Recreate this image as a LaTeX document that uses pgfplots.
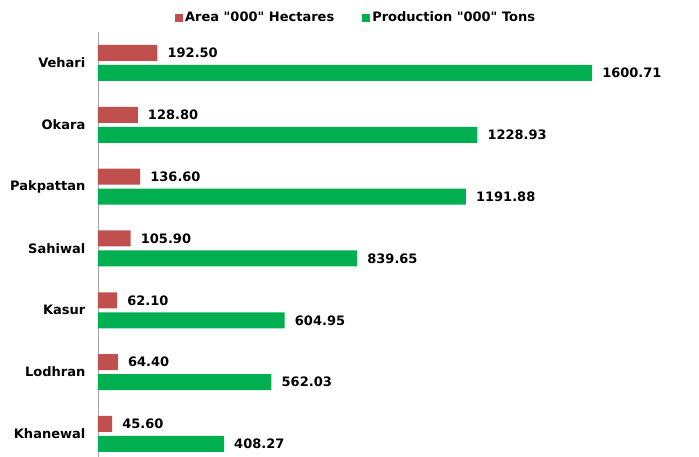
\documentclass[border=0pt]{standalone}
\usepackage{fontspec}
\setmainfont{DejaVu Sans}[Ligatures=TeXOff]
\usepackage{pgfplots}
\pgfplotsset{compat=1.18}
\usepackage{pgfplotstable}
\definecolor{areaRed}{HTML}{C0504D}
\definecolor{prodGreen}{HTML}{00B050}

\pgfplotstableread{
idx area prod
6 192.50 1600.71
5 128.80 1228.93
4 136.60 1191.88
3 105.90 839.65
2 62.10 604.95
1 64.40 562.03
0 45.60 408.27
}\districts

\newcommand{\lblfont}{\fontsize{13}{15}\selectfont\bfseries}

\begin{document}
\begin{tikzpicture}
\begin{axis}[
  at={(98pt,0pt)}, anchor=south west,
  scale only axis, width=592pt, height=425pt,
  xbar, bar width=16pt,
  xmin=0, xmax=1918,
  ymin=-0.372, ymax=6.50,
  axis x line=none,
  axis y line=left,
  y axis line style={-, draw=gray!70, line width=0.8pt},
  ytick={0,...,6},
  yticklabels={Khanewal,Lodhran,Kasur,Sahiwal,Pakpattan,Okara,Vehari},
  ytick style={draw=none},
  yticklabel style={font=\lblfont, xshift=-7pt},
  /pgf/number format/assume math mode=true,
  /pgf/number format/fixed, /pgf/number format/fixed zerofill,
  /pgf/number format/precision=2, /pgf/number format/1000 sep={},
  nodes near coords,
  nodes near coords style={font=\lblfont, anchor=west, inner sep=0pt, xshift=10pt},
  legend style={draw=none, font=\lblfont, legend columns=2,
    at={(0.436,1.034)}, anchor=center,
    nodes={inner sep=2pt},
    /tikz/every even column/.append style={column sep=26pt}},
  legend image code/.code={\fill[#1] (0pt,-4pt) rectangle (8pt,4pt);},
]
\addplot[fill=areaRed, draw=none, bar shift=10pt] table[x=area, y=idx] {\districts};
\addlegendentry{Area "000" Hectares}
\addplot[fill=prodGreen, draw=none, bar shift=-10pt] table[x=prod, y=idx] {\districts};
\addlegendentry{Production "000" Tons}
\end{axis}
\pgfresetboundingbox
\path (0pt,0pt) rectangle (699pt,457pt);
\end{tikzpicture}
\end{document}
